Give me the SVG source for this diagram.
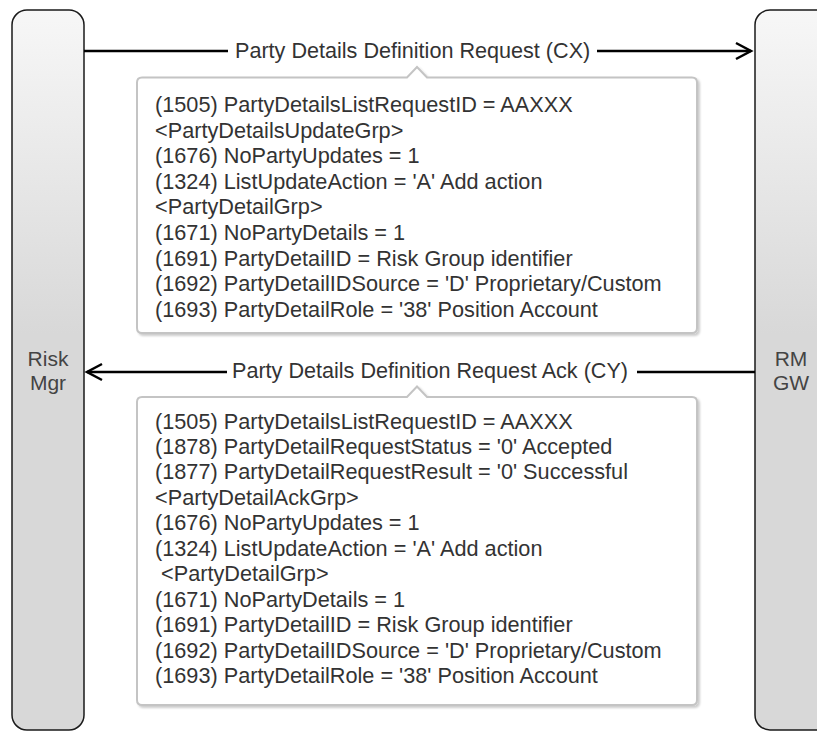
<svg xmlns="http://www.w3.org/2000/svg" width="817" height="731" viewBox="0 0 817 731">
<style>
text{font-family:"Liberation Sans",Arial,sans-serif;fill:#333;}
.lane{stroke:#1a1a1a;stroke-width:1.5;fill:url(#lg);}
.lbl{font-size:21px;text-anchor:middle;fill:#444;}
.msg{font-size:21.6px;}
.body{font-size:21.7px;}
.box{fill:#fff;stroke:#c4c4c4;stroke-width:2;filter:url(#sh);}
.ln{stroke:#000;stroke-width:2.5;fill:none;}
</style>
<defs>
<linearGradient id="lg" x1="0" y1="0" x2="0" y2="1">
<stop offset="0" stop-color="#f7f7f7"/>
<stop offset="0.45" stop-color="#d8d8d8"/>
<stop offset="1" stop-color="#d8d8d8"/>
</linearGradient>
<filter id="sh" x="-5%" y="-5%" width="110%" height="110%">
<feDropShadow dx="2" dy="2" stdDeviation="1" flood-color="#000" flood-opacity="0.2"/>
</filter>
</defs>
<g id="risk-mgr">
<rect class="lane" x="12" y="10" width="72" height="720" rx="15"/>
<text class="lbl" x="48" y="366">Risk</text>
<text class="lbl" x="48" y="390">Mgr</text>
</g>
<g id="rm-gw">
<rect class="lane" x="755" y="10" width="80" height="720" rx="15"/>
<text class="lbl" x="791" y="366">RM</text>
<text class="lbl" x="791" y="390">GW</text>
</g>
<g id="connectors">
<path class="ln" d="M84 51H228M597 51H751"/>
<path class="ln" d="M736 43L751 51L736 59"/>
<path class="ln" d="M755 372H637M227 372H87"/>
<path class="ln" d="M102 364L87 372L102 380"/>
<text class="msg" x="235" y="58">Party Details Definition Request (CX)</text>
<text class="msg" x="232" y="378">Party Details Definition Request Ack (CY)</text>
</g>
<g id="request-fields">
<path class="box" d="M142 77.5H407L417 67L427 77.5H692Q697 77.5 697 82.5V328Q697 333 692 333H142Q137 333 137 328V82.5Q137 77.5 142 77.5Z"/>
<text class="body" x="155" y="112">(1505) PartyDetailsListRequestID = AAXXX</text>
<text class="body" x="155" y="137.6">&lt;PartyDetailsUpdateGrp&gt;</text>
<text class="body" x="155" y="163.2">(1676) NoPartyUpdates = 1</text>
<text class="body" x="155" y="188.8">(1324) ListUpdateAction = 'A' Add action</text>
<text class="body" x="155" y="214.4">&lt;PartyDetailGrp&gt;</text>
<text class="body" x="155" y="240">(1671) NoPartyDetails = 1</text>
<text class="body" x="155" y="265.6">(1691) PartyDetailID = Risk Group identifier</text>
<text class="body" x="155" y="291.2">(1692) PartyDetailIDSource = 'D' Proprietary/Custom</text>
<text class="body" x="155" y="316.8">(1693) PartyDetailRole = '38' Position Account</text>
</g>
<g id="ack-fields">
<path class="box" d="M142 397H407L417 386.5L427 397H692Q697 397 697 402V700Q697 705 692 705H142Q137 705 137 700V402Q137 397 142 397Z"/>
<text class="body" x="155" y="428.5">(1505) PartyDetailsListRequestID = AAXXX</text>
<text class="body" x="155" y="454">(1878) PartyDetailRequestStatus = '0' Accepted</text>
<text class="body" x="155" y="479.4">(1877) PartyDetailRequestResult = '0' Successful</text>
<text class="body" x="155" y="504.9">&lt;PartyDetailAckGrp&gt;</text>
<text class="body" x="155" y="530.3">(1676) NoPartyUpdates = 1</text>
<text class="body" x="155" y="555.8">(1324) ListUpdateAction = 'A' Add action</text>
<text class="body" x="161" y="581.2">&lt;PartyDetailGrp&gt;</text>
<text class="body" x="155" y="606.7">(1671) NoPartyDetails = 1</text>
<text class="body" x="155" y="632.1">(1691) PartyDetailID = Risk Group identifier</text>
<text class="body" x="155" y="657.6">(1692) PartyDetailIDSource = 'D' Proprietary/Custom</text>
<text class="body" x="155" y="683">(1693) PartyDetailRole = '38' Position Account</text>
</g>
</svg>
